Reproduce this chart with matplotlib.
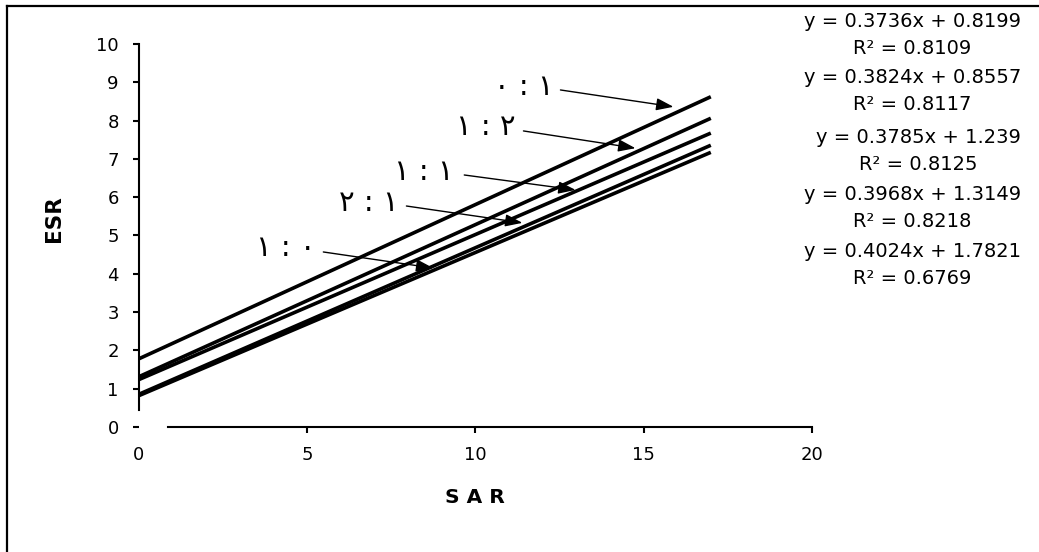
import matplotlib
matplotlib.use('Agg')
import matplotlib.pyplot as plt
from matplotlib.lines import Line2D
import numpy as np

plt.rc('font', family='DejaVu Sans')

# fitted lines (slope, intercept, r2), bottom line first
slopes = [0.3736, 0.3824, 0.3785, 0.3968, 0.4024]
intercepts = [0.8199, 0.8557, 1.2390, 1.3149, 1.7821]
r2 = [0.8109, 0.8117, 0.8125, 0.8218, 0.6769]
sar_range = [0, 17]

# ratio labels (as drawn, left to right) and where their arrows go
ratio_labels = ['٠ : ١', '١ : ٢', '١ : ١', '٢ : ١', '١ : ٠']
label_xy = [(12.32, 8.88), (11.19, 7.83), (9.35, 6.66), (7.71, 5.85), (5.24, 4.67)]
arrow_from = [(12.53, 8.80), (11.43, 7.73), (9.67, 6.58), (7.95, 5.77), (5.48, 4.57)]
arrow_to = [(15.89, 8.36), (14.76, 7.28), (12.98, 6.19), (11.40, 5.33), (8.75, 4.15)]

W, H = 1039, 552
fig = plt.figure(figsize=(W / 100, H / 100), dpi=100)
ax = fig.add_axes([139 / W, 1 - 427 / H, 672.7 / W, 383 / H])

# outer frame (left and top edges show)
fig.add_artist(Line2D([7 / W, 7 / W], [-0.1, 1 - 5.5 / H], color='k', lw=1.6,
                      transform=fig.transFigure))
fig.add_artist(Line2D([7 / W, 1.1], [1 - 5.5 / H, 1 - 5.5 / H], color='k', lw=1.6,
                      transform=fig.transFigure))

x = np.array(sar_range, dtype=float)
for a, b in zip(slopes, intercepts):
    ax.plot(x, a * x + b, color='k', lw=2.6, solid_capstyle='butt')

for lab, (tx, ty), p0, p1 in zip(ratio_labels, label_xy, arrow_from, arrow_to):
    ax.text(tx, ty, lab, ha='right', va='center', fontsize=21)
    ax.annotate('', xy=p1, xytext=p0,
                arrowprops=dict(arrowstyle='-|>,head_length=0.7,head_width=0.25',
                                mutation_scale=15, lw=1, color='k',
                                shrinkA=0, shrinkB=0))

ax.set_xlim(0, 20)
ax.set_ylim(0, 10)
ax.set_xticks([0, 5, 10, 15, 20])
ax.set_yticks(range(0, 11))
for s in ['top', 'right']:
    ax.spines[s].set_visible(False)
ax.spines['left'].set_bounds(0.45, 10)
ax.spines['bottom'].set_bounds(0.86, 20)
ax.spines['left'].set_linewidth(1.5)
ax.spines['bottom'].set_linewidth(1.5)
ax.tick_params(axis='both', direction='out', length=4.5, width=1.5, labelsize=13)
ax.tick_params(axis='y', pad=10)
ax.tick_params(axis='x', pad=9)
ax.xaxis.get_major_ticks()[0].tick1line.set_visible(False)
ax.patch.set_visible(False)

ax.set_xlabel('S A R', fontsize=14.5, fontweight='bold')
ax.xaxis.set_label_coords(0.5, -0.158)
ax.set_ylabel('ESR', fontsize=15.5, fontweight='bold')
ax.yaxis.set_label_coords(-0.112, 0.545)

# trendline equations, right column
eq_tops = [22, 78, 138, 195, 252]
for a, b, r, yp in zip(slopes, intercepts, r2, eq_tops):
    bs = ('%.4f' % b).rstrip('0')
    txt = 'y = %.4fx + %s\nR² = %.4f' % (a, bs, r)
    fig.text(1021 / W, 1 - (yp - 10) / H, txt, ha='right', va='top',
             multialignment='center', fontsize=14, linespacing=1.55)

fig.savefig('out.png', dpi=100)
